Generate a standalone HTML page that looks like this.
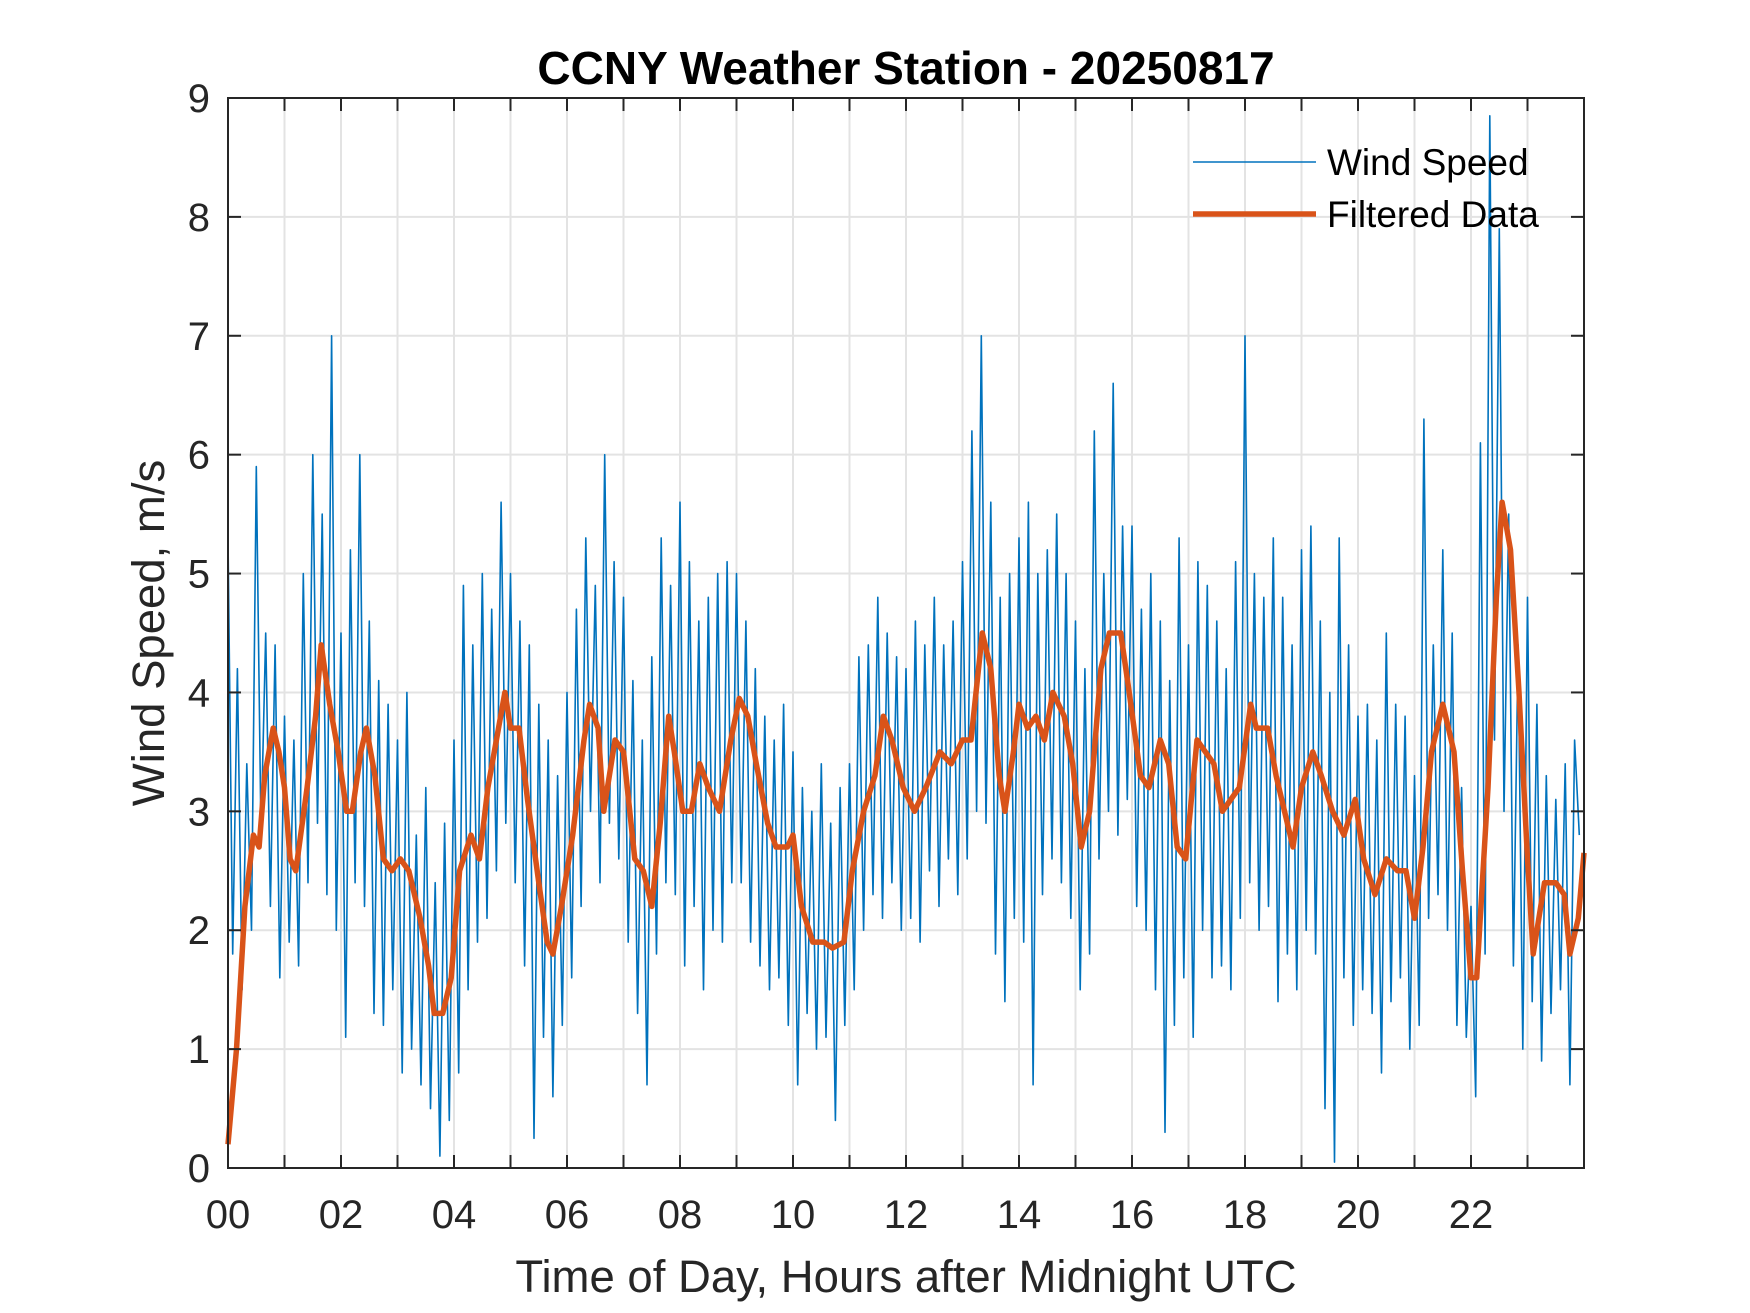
<!DOCTYPE html>
<html><head><meta charset="utf-8"><style>
html,body{margin:0;padding:0;background:#fff}
svg{display:block;font-family:"Liberation Sans",Arial,sans-serif}
</style></head><body>
<svg id="chart" width="1750" height="1313" viewBox="0 0 1750 1313" xmlns="http://www.w3.org/2000/svg">
<rect width="1750" height="1313" fill="#fff"/>
<g id="grid"></g>
<g id="series"></g>
<g id="axes"></g>
<text x="906" y="84" text-anchor="middle" font-size="46" font-weight="bold" fill="#000">CCNY Weather Station - 20250817</text>
<text x="906" y="1292" text-anchor="middle" font-size="45.5" fill="#262626">Time of Day, Hours after Midnight UTC</text>
<text transform="translate(164,633) rotate(-90)" text-anchor="middle" font-size="45.5" fill="#262626">Wind Speed, m/s</text>
<g>
<line x1="1193" y1="162" x2="1316" y2="162" stroke="#0072BD" stroke-width="1.5"/>
<text x="1327" y="175" font-size="37" fill="#000">Wind Speed</text>
<line x1="1193" y1="214" x2="1316" y2="214" stroke="#D95319" stroke-width="5.5"/>
<text x="1327" y="227" font-size="37" fill="#000">Filtered Data</text>
</g>
</svg>
<script>
const windStepHours = 1/12;
const windValues = [
5.3,1.8,4.2,1.5,3.4,2.0,5.9,2.8,4.5,2.2,4.4,1.6,
3.8,1.9,3.6,1.7,5.0,2.4,6.0,2.9,5.5,2.3,7.0,2.0,
4.5,1.1,5.2,2.4,6.0,2.2,4.6,1.3,4.1,1.2,3.9,1.5,
3.6,0.8,4.0,1.0,2.8,0.7,3.2,0.5,2.4,0.1,2.9,0.4,
3.6,0.8,4.9,1.5,4.4,1.9,5.0,2.1,4.7,2.5,5.6,2.9,
5.0,2.4,4.6,1.7,4.4,0.25,3.9,1.1,3.6,0.6,3.3,1.2,
4.0,1.6,4.7,2.2,5.3,3.0,4.9,2.4,6.0,2.9,5.1,2.6,
4.8,1.9,4.1,1.3,3.6,0.7,4.3,1.8,5.3,2.4,4.9,2.3,
5.6,1.7,5.1,2.2,4.6,1.5,4.8,2.0,5.0,1.9,5.1,2.4,
5.0,2.4,4.6,1.9,4.2,1.7,3.8,1.5,3.6,1.6,3.9,1.2,
3.5,0.7,3.2,1.3,3.0,1.0,3.4,1.1,2.9,0.4,3.2,1.2,
3.4,1.5,4.3,2.0,4.4,2.3,4.8,2.1,4.5,2.4,4.3,2.0,
4.2,2.1,4.6,1.9,4.4,2.5,4.8,2.2,4.4,2.6,4.6,2.3,
5.1,2.6,6.2,3.0,7.0,2.9,5.6,1.8,4.8,1.4,5.0,2.1,
5.3,1.9,5.6,0.7,5.0,2.3,5.2,2.6,5.5,2.4,5.0,2.1,
4.6,1.5,4.2,1.8,6.2,2.6,5.0,3.0,6.6,2.8,5.4,3.1,
5.4,2.2,4.7,2.0,5.0,1.5,4.6,0.3,4.1,1.2,5.3,1.6,
4.4,1.1,5.1,2.0,4.9,1.6,4.6,1.7,4.2,1.5,5.1,2.1,
7.0,2.4,5.0,2.0,4.8,2.2,5.3,1.4,4.8,1.8,4.4,1.5,
5.2,2.0,5.4,1.8,4.6,0.5,4.0,0.05,5.3,1.6,4.4,1.2,
3.8,1.5,3.9,1.3,3.6,0.8,4.5,1.4,3.9,1.6,3.8,1.0,
3.3,1.2,6.3,2.1,4.4,2.3,5.2,2.0,4.5,1.2,3.2,1.1,
2.2,0.6,6.1,1.8,8.85,3.6,7.9,3.0,5.5,1.7,4.4,1.0,
4.8,1.4,3.9,0.9,3.3,1.3,3.1,1.5,3.4,0.7,3.6,2.8
];
const filtTimes = [0,0.15,0.3,0.45,0.55,0.65,0.8,0.9,1.0,1.1,1.2,1.4,1.55,1.65,1.8,1.95,2.1,2.2,2.35,2.45,2.6,2.75,2.9,3.05,3.2,3.4,3.55,3.65,3.8,3.95,4.1,4.3,4.45,4.6,4.9,5.0,5.15,5.3,5.5,5.65,5.75,5.9,6.1,6.3,6.4,6.55,6.65,6.85,7.0,7.2,7.35,7.5,7.65,7.8,7.9,8.05,8.2,8.35,8.5,8.7,8.9,9.05,9.2,9.35,9.55,9.7,9.9,10.0,10.15,10.35,10.55,10.7,10.9,11.05,11.25,11.45,11.6,11.75,11.95,12.15,12.35,12.6,12.8,13.0,13.15,13.35,13.5,13.65,13.75,13.9,14.0,14.15,14.3,14.45,14.6,14.8,14.95,15.1,15.25,15.45,15.6,15.8,15.95,16.15,16.3,16.5,16.65,16.8,16.95,17.15,17.3,17.45,17.6,17.75,17.9,18.1,18.2,18.4,18.55,18.7,18.85,19.0,19.2,19.35,19.55,19.75,19.95,20.1,20.3,20.5,20.7,20.85,21.0,21.15,21.3,21.5,21.7,21.85,22.0,22.1,22.3,22.45,22.55,22.7,22.85,23.0,23.1,23.3,23.5,23.65,23.75,23.9,24.0];
const filtValues = [0.2,1.0,2.2,2.8,2.7,3.3,3.7,3.5,3.2,2.6,2.5,3.2,3.8,4.4,3.9,3.5,3.0,3.0,3.5,3.7,3.3,2.6,2.5,2.6,2.5,2.1,1.7,1.3,1.3,1.6,2.5,2.8,2.6,3.2,4.0,3.7,3.7,3.1,2.4,1.9,1.8,2.2,2.8,3.6,3.9,3.7,3.0,3.6,3.5,2.6,2.5,2.2,2.9,3.8,3.5,3.0,3.0,3.4,3.2,3.0,3.6,3.95,3.8,3.4,2.9,2.7,2.7,2.8,2.2,1.9,1.9,1.85,1.9,2.5,3.0,3.3,3.8,3.6,3.2,3.0,3.2,3.5,3.4,3.6,3.6,4.5,4.2,3.3,3.0,3.5,3.9,3.7,3.8,3.6,4.0,3.8,3.4,2.7,3.0,4.2,4.5,4.5,4.0,3.3,3.2,3.6,3.4,2.7,2.6,3.6,3.5,3.4,3.0,3.1,3.2,3.9,3.7,3.7,3.3,3.0,2.7,3.2,3.5,3.3,3.0,2.8,3.1,2.6,2.3,2.6,2.5,2.5,2.1,2.7,3.5,3.9,3.5,2.5,1.6,1.6,3.2,4.8,5.6,5.2,4.0,2.6,1.8,2.4,2.4,2.3,1.8,2.1,2.65];
const xTickLabels = ["00","02","04","06","08","10","12","14","16","18","20","22"];
const yTickLabels = ["0","1","2","3","4","5","6","7","8","9"];

const L=228,R=1584,T=98,B=1168;
const xS=h=>L+(R-L)*h/24;
const yS=v=>B-(B-T)*v/9;
const NS="http://www.w3.org/2000/svg";
function mk(tag,parent,attrs){const e=document.createElementNS(NS,tag);for(const k in attrs)e.setAttribute(k,attrs[k]);parent.appendChild(e);return e;}
const grid=document.getElementById('grid'),axes=document.getElementById('axes'),series=document.getElementById('series');
for(let h=1;h<24;h++){
  const g=mk('line',grid,{x1:xS(h),x2:xS(h),y1:T,y2:B,stroke:'#e3e3e3','stroke-width':2});
  
  
  const t1=mk('line',axes,{x1:xS(h),x2:xS(h),y1:B,y2:B-13,stroke:'#262626','stroke-width':2});
  
  
  const t2=mk('line',axes,{x1:xS(h),x2:xS(h),y1:T,y2:T+13,stroke:'#262626','stroke-width':2});
  
  
}
yTickLabels.forEach((lab,i)=>{
  if(i>0&&i<9){
    const g=mk('line',grid,{x1:L,x2:R,y1:yS(i),y2:yS(i),stroke:'#e3e3e3','stroke-width':2});
    
    
    const t1=mk('line',axes,{x1:L,x2:L+13,y1:yS(i),y2:yS(i),stroke:'#262626','stroke-width':2});
    
    
    const t2=mk('line',axes,{x1:R,x2:R-13,y1:yS(i),y2:yS(i),stroke:'#262626','stroke-width':2});
    
    
  }
  const tx=mk('text',axes,{x:L-18,y:yS(i)+14,'text-anchor':'end','font-size':40,fill:'#262626'});
  tx.textContent=lab;
  
  
});
xTickLabels.forEach((lab,i)=>{
  const tx=mk('text',axes,{x:xS(i*2),y:1228,'text-anchor':'middle','font-size':40,fill:'#262626'});
  tx.textContent=lab;
  
  
});
const frame=mk('rect',axes,{x:L,y:T,width:R-L,height:B-T,fill:'none',stroke:'#262626','stroke-width':2});



const wp=windValues.map((v,i)=>xS(i*windStepHours).toFixed(1)+','+yS(v).toFixed(1)).join(' ');
const wl=mk('polyline',series,{points:wp,fill:'none',stroke:'#0072BD','stroke-width':1.6,'stroke-linejoin':'round'});


const fp=filtValues.map((v,i)=>xS(filtTimes[i]).toFixed(1)+','+yS(v).toFixed(1)).join(' ');
const fl=mk('polyline',series,{points:fp,fill:'none',stroke:'#D95319','stroke-width':5.5,'stroke-linejoin':'round'});


</script>
</body></html>
